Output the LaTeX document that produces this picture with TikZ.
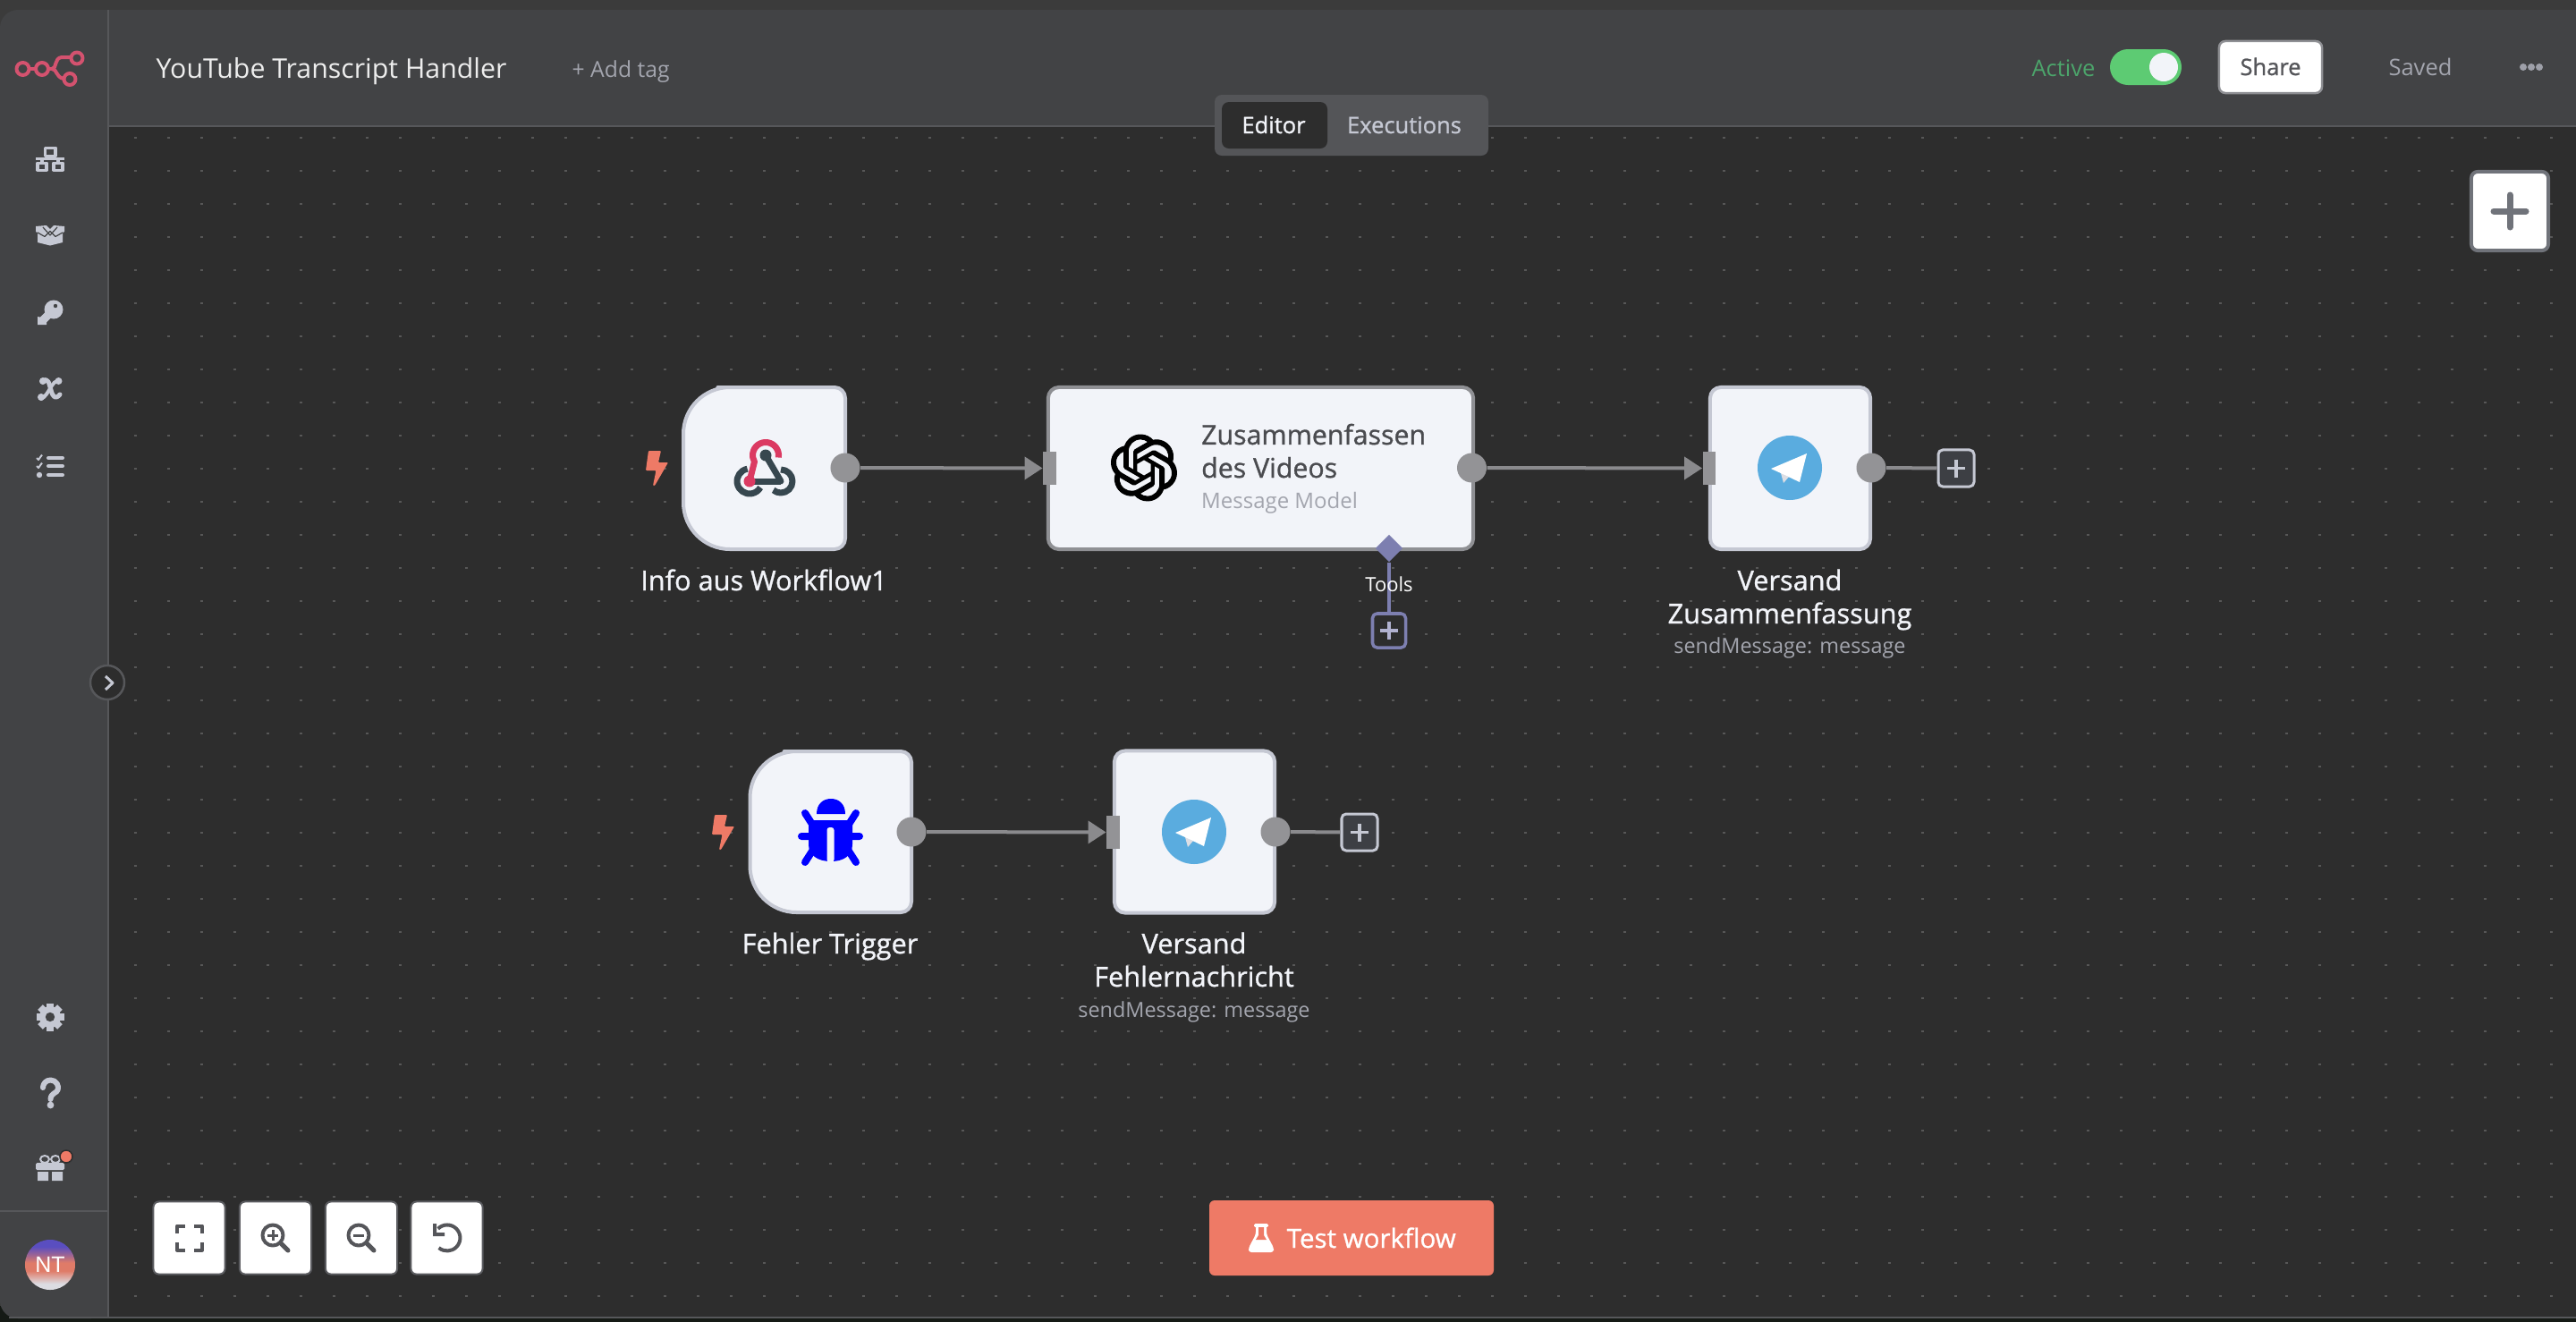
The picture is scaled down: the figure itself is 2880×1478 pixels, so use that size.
\documentclass[tikz,border=0pt]{standalone}
\usepackage{fontspec}
\setmainfont{Open Sans}
\newfontfamily\medf[FakeBold=1.0]{Open Sans}
\newfontfamily\arialf{Liberation Sans}
\usetikzlibrary{arrows.meta,shapes.geometric,svg.path}
\definecolor{canvasc}{HTML}{2D2D2D}
\definecolor{barc}{HTML}{424345}
\definecolor{topc}{HTML}{3B3B3B}
\definecolor{linec}{HTML}{56575A}
\definecolor{dotc}{HTML}{575757}
\definecolor{iconc}{HTML}{C5C8D3}
\definecolor{nodefill}{HTML}{F2F4F9}
\definecolor{nodeedge}{HTML}{C5C8D3}
\definecolor{selectedge}{HTML}{8F9094}
\definecolor{portc}{HTML}{939396}
\definecolor{connc}{HTML}{8A8A8D}
\definecolor{toolc}{HTML}{7D7FB0}
\definecolor{coral}{HTML}{EE7A66}
\definecolor{tgblue}{HTML}{5AACDF}
\definecolor{hookdark}{HTML}{37474F}
\definecolor{hookpink}{HTML}{DB3A62}
\definecolor{logoc}{HTML}{D4526F}
\definecolor{bugc}{HTML}{0000FF}
\definecolor{subc}{HTML}{A3A5AE}
\definecolor{btnline}{HTML}{5B5C60}
\definecolor{btnicon}{HTML}{55565A}
\definecolor{plusfill}{HTML}{3D3F44}
\definecolor{avlight}{HTML}{DCDCE2}
\definecolor{avmid}{HTML}{DF7B68}
\definecolor{avtop}{HTML}{5A4EC0}
\definecolor{activec}{HTML}{4CA56B}
\definecolor{toggleg}{HTML}{5DCB73}
\definecolor{tabouter}{HTML}{545558}
\definecolor{plusedge}{HTML}{70737A}
\definecolor{textdark}{HTML}{4A4B4F}
\definecolor{screenedge}{HTML}{151A15}
\pgfdeclareverticalshading{avatarshade}{100bp}{color(0bp)=(avlight); color(31bp)=(avlight); color(44bp)=(avmid); color(52bp)=(avmid); color(68bp)=(avtop); color(100bp)=(avtop)}
\newcommand{\fpx}[1]{\fontsize{\fpeval{#1*0.28453}pt}{10.53pt}\selectfont}
\newcommand{\boltmark}[2]{\fill[coral,rounded corners=.01cm,shift={(#1,#2)}] (3,0)--(17,0)--(14,13)--(25,13)--(10,39)--(8,39)--(11.5,22)--(0,22)--cycle;}
\newcommand{\tgicon}[2]{\begin{scope}[shift={(#1,#2)}]
\fill[white] (19,-16)--(-21,1)--(-10,6)--(11,16)--cycle;
\fill[iconc!60!white] (-10,6)--(-7,17)--(-1,10)--cycle;
\fill[white] (19,-16)--(-10,6)--(-1,10)--cycle;
\end{scope}}
\newcommand{\triggerbox}[4]{\draw[trigshape] [rounded corners=.12cm] (\fpeval{(#1+#3)/2},#2)--(#3,#2)--(#3,#4)--(\fpeval{(#1+#3)/2},#4) [rounded corners=.52cm] --(#1,#4)--(#1,#2)--cycle;}
\newcommand{\plusglyph}[3]{\draw[#3,line width=.035cm] (\fpeval{#1-10},#2)--(\fpeval{#1+10},#2) (#1,\fpeval{#2-10})--(#1,\fpeval{#2+10});}
\tikzset{
  trigshape/.style={draw=nodeedge,fill=nodefill,line width=.04cm},
  anchorbox/.style={inner sep=0pt,minimum width=1.81cm,minimum height=1.81cm},
  flowbox/.style={draw=nodeedge,fill=nodefill,line width=.04cm,rounded corners=.12cm,inner sep=0pt,minimum height=1.81cm},
  outdot/.style={circle,fill=portc,inner sep=0pt,minimum size=.33cm},
  inport/.style={rectangle,fill=portc,inner sep=0pt,minimum width=.145cm,minimum height=.37cm},
  conn/.style={draw=connc,line width=.04cm,-{Triangle[length=.2cm,width=.25cm]}},
  stub/.style={draw=connc,line width=.04cm},
  plusbox/.style={rectangle,rounded corners=.05cm,draw=nodeedge,fill=plusfill,line width=.03cm,inner sep=0pt,minimum width=.4cm,minimum height=.41cm},
  toolbox/.style={rectangle,rounded corners=.05cm,draw=toolc,fill=canvasc,line width=.035cm,inner sep=0pt,minimum width=.37cm,minimum height=.38cm},
  lab/.style={inner sep=0pt,anchor=base,text=nodefill,align=center,font=\medf\fpx{30.7}},
  sublab/.style={inner sep=0pt,anchor=base,text=subc,font=\fpx{23.4}},
  ctrl/.style={rectangle,rounded corners=.06cm,draw=btnline,fill=white,line width=.02cm,inner sep=0pt,minimum width=.8cm,minimum height=.81cm},
  ctrlicon/.style={draw=btnicon,line width=.04cm},
  txt/.style={inner sep=0pt,anchor=base}
}
\begin{document}
\begin{tikzpicture}[x=.01cm,y=-.01cm,line join=round]
\useasboundingbox (0,0) rectangle (2880,1478);
% backgrounds
\fill[screenedge] (0,0) rectangle (2880,1478);
\fill[topc] (0,0) rectangle (2880,1460);
\fill[canvasc] (122,142) rectangle (2880,1472);
\fill[barc,rounded corners=.2cm] (0,11) rectangle (122,1474);
\fill[barc] (60,11) rectangle (122,1474);
\fill[barc] (122,11) rectangle (2880,140);
\fill[canvasc] (122,142) rectangle (2880,1472);
\fill[linec] (120,11) rectangle (122,1474);
\fill[linec] (122,140) rectangle (2880,142);
\fill[linec] (0,1353) rectangle (120,1355);
\fill[linec] (10,1472) rectangle (2880,1474);
% dots
\foreach \i in {0,...,73}{\foreach \j in {0,...,35}{
  \fill[dotc] (\fpeval{150+\i*37},\fpeval{152.6+\j*37}) rectangle ++(2.5,2.5);}}
% header
\node[txt,anchor=base west,text=white!93!black,font=\fpx{30.3}] (title) at (174,87) {YouTube Transcript Handler};
\node[txt,anchor=base west,text=subc,font=\fpx{24.7}] (addtag) at (639,86) {+ Add tag};
\node[txt,font=\fpx{25.5},text=activec] (active) at (2307,85) {Active};
\fill[toggleg,rounded corners=.2cm] (2359,55) rectangle (2439,95);
\fill[nodefill] (2419,75) circle (16);
\node[rectangle,rounded corners=.07cm,draw=selectedge,fill=white,line width=.025cm,minimum width=1.15cm,minimum height=.58cm,inner sep=0pt] (sharebox) at (2538.5,75) {};
\node[txt,text=btnicon,font=\medf\fpx{25.5}] (share) at (2538.5,84) {Share};
\node[txt,text=subc,font=\fpx{25.5}] (saved) at (2706,84) {Saved};
\foreach \x in {2821,2830,2839}{\fill[iconc!80!black] (\x,75) circle (4);}
% tabs
\fill[tabouter,rounded corners=.08cm] (1358,106) rectangle (1664,174);
\fill[canvasc,rounded corners=.08cm] (1366,114) rectangle (1484,166);
\node[txt,text=nodefill,font=\medf\fpx{25.5}] (editor) at (1424,149) {Editor};
\node[txt,text=iconc,font=\medf\fpx{25.5}] (exec) at (1570,149) {Executions};
% add node button
\node[rectangle,rounded corners=.07cm,draw=plusedge,fill=white,line width=.04cm,inner sep=0pt,minimum width=.86cm,minimum height=.88cm] (addbtn) at (2806,236) {};
\draw[plusedge,line width=.07cm,line cap=round] (2788,236)--(2824,236) (2806,218)--(2806,254);
% logo
\begin{scope}[logoc,line width=.04cm]
\draw (25.5,77) circle (7) (47,77) circle (7) (86,65) circle (6.5) (78,88.5) circle (6.5);
\draw (33,77)--(39,77) (54,77)--(60,77);
\draw (58,77) .. controls (64,77) and (60,65) .. (69,64) -- (79,64);
\draw (58,77) .. controls (64,77) and (62,86) .. (71,88);
\end{scope}
% sidebar icons
\begin{scope}[iconc]
\draw[line width=.03cm] (50.5,165) rectangle (62,174) (42,182) rectangle (52,190) (60,182) rectangle (70,190);
\draw[line width=.03cm] (40,177)--(72,177) (56,174)--(56,177) (47,177)--(47,182) (65,177)--(65,182);
\fill (40,253)--(52,252)--(56,256)--(60,252)--(72,253)--(72,259)--(70,260)--(70,271)--(56,274.5)--(42,271)--(42,260)--(40,259)--cycle;
\draw[barc,line width=.012cm] (48,254)--(56,263)--(64,254) (42,260)--(50,264.5)--(56,258.5)--(62,264.5)--(70,260);
\fill (60,346) circle (10.5);
\draw[line width=.09cm] (56,350)--(47,359);
\fill (42,354)--(52,356)--(52,363)--(42,363)--cycle;
\fill[barc] (62,342) circle (2.2);
\draw[line width=.05cm,line cap=round] (47,427) .. controls (54,420) and (55,430) .. (57,436) .. controls (59,444) and (62,447) .. (67,441);
\draw[line width=.04cm,line cap=round] (66,426) .. controls (58,424) and (55,442) .. (46,446);
\fill (48,426) circle (4) (65.5,426) circle (4) (46,444) circle (4);
\draw[line width=.02cm] (41,512)--(43,514)--(47,508.5) (41,521)--(43,523)--(47,517.5);
\fill (44,531) circle (3.2);
\draw[line width=.04cm,line cap=round] (54,512)--(70,512) (54,521)--(70,521) (54,531)--(70,531);
% gear
\begin{scope}[shift={(56,1137)}]
\foreach \a in {0,45,...,315}{\fill[rotate=\a] (-4,-15.5) rectangle (4,-9);}
\fill (0,0) circle (12);
\fill[barc] (0,0) circle (5.2);
\end{scope}
% question
\draw[line width=.06cm,line cap=round] (48,1216) arc[start angle=180,end angle=375,radius=8.5] .. controls (64,1222) and (56.5,1222) .. (56.5,1229);
\fill (56.5,1235.5) circle (3.9);
% gift
\fill[rounded corners=.015cm] (40,1300) rectangle (72,1308);
\fill (42,1310) rectangle (54,1320) (58,1310) rectangle (70,1320);
\draw[line width=.02cm] (50,1296) ellipse (5 and 4) (62,1296) ellipse (5 and 4);
\end{scope}
\fill[coral,draw=canvasc,line width=.015cm] (74,1293) circle (7);
% sidebar toggle
\node[circle,draw=linec,fill=canvasc,line width=.025cm,minimum size=.38cm,inner sep=0pt] (toggle) at (120,763) {};
\draw[iconc,line width=.03cm] (118,756)--(126,763.5)--(118,771);
% avatar
\node[circle,shading=avatarshade,minimum size=.56cm,inner sep=0pt] (avatar) at (56,1414) {};
\node[txt,text=white,font=\arialf\fpx{25}] (nt) at (56,1422) {NT};
% control buttons
\node[ctrl] (fit) at (211.5,1384) {};
\node[ctrl] (zin) at (308,1384) {};
\node[ctrl] (zout) at (404,1384) {};
\node[ctrl] (undo) at (499.5,1384) {};
\draw[ctrlicon] (198,1379)--(198,1370.5)--(207,1370.5) (217,1370.5)--(226,1370.5)--(226,1379) (198,1389)--(198,1397.5)--(207,1397.5) (217,1397.5)--(226,1397.5)--(226,1389);
\draw[ctrlicon] (305,1381) circle (11.5);
\draw[ctrlicon,line width=.05cm,line cap=round] (313.5,1389.5)--(322,1398);
\draw[ctrlicon,line width=.03cm] (299,1381)--(311,1381) (305,1375)--(305,1387);
\draw[ctrlicon] (401,1381) circle (11.5);
\draw[ctrlicon,line width=.05cm,line cap=round] (409.5,1389.5)--(418,1398);
\draw[ctrlicon,line width=.03cm] (395,1381)--(407,1381);
\draw[ctrlicon] (489.7,1373.7) arc[start angle=225,end angle=490,radius=14.5];
\fill[btnicon] (484,1368)--(488,1368)--(488,1378)--(497,1378)--(497,1382)--(484,1382)--cycle;
% test button
\fill[coral,rounded corners=.06cm] (1352,1342) rectangle (1670,1426);
\fill[white,rounded corners=.015cm] (1402,1368) rectangle (1418,1372);
\fill[white,rounded corners=.03cm] (1404,1370)--(1416,1370)--(1416,1380)--(1424,1395)--(1424,1400)--(1396,1400)--(1396,1395)--(1404,1380)--cycle;
\fill[coral] (1407,1372)--(1413,1372)--(1413,1381)--(1416,1386)--(1404,1386)--(1407,1381)--cycle;
\node[txt,anchor=base west,text=white,font=\medf\fpx{29.5}] (testwf) at (1438,1395) {Test workflow};
% ---- workflow row 1
\node[anchorbox] (info) at (854.5,523.5) {};
\triggerbox{764}{433}{945}{614}
\node[flowbox,minimum width=4.75cm,draw=selectedge] (openai) at (1409.5,523.5) {};
\node[flowbox,minimum width=1.79cm] (tg1) at (2001.5,523.5) {};
\boltmark{722}{504}
% webhook icon
\begin{scope}[line width=.07cm]
\draw[hookdark,line cap=round] (856,509)--(873,538);
\draw[hookdark] (840,538)--(873,538);
\draw[hookdark] (873,525) arc[start angle=-90,end angle=130,radius=13];
\draw[hookdark] (835.6,524.2) arc[start angle=-100,end angle=-330,radius=14];
\draw[hookpink] (870.3,511.5) arc[start angle=10,end angle=-210,radius=14.5] -- (838,538);
\fill[hookdark] (856,509) circle (6.5);
\fill[hookpink] (838,538) circle (6.5);
\end{scope}
% openai icon
\begin{scope}[shift={(1242,486)},scale=.876,yscale=-1]
\filldraw[black,line width=.01cm,even odd rule] svg {M 22.2819 9.8211 a 5.9847 5.9847 0 0 0 -0.5157 -4.9108 a 6.0462 6.0462 0 0 0 -6.5098 -2.9 A 6.0651 6.0651 0 0 0 4.9807 4.1818 a 5.9847 5.9847 0 0 0 -3.9977 2.9 a 6.0462 6.0462 0 0 0 0.7427 7.0966 a 5.98 5.98 0 0 0 0.511 4.9107 a 6.051 6.051 0 0 0 6.5146 2.9001 A 5.9847 5.9847 0 0 0 13.2599 24 a 6.0557 6.0557 0 0 0 5.7718 -4.2058 a 5.9894 5.9894 0 0 0 3.9977 -2.9001 a 6.0557 6.0557 0 0 0 -0.7475 -7.0729 z M 13.2599 22.4292 a 4.4755 4.4755 0 0 1 -2.8764 -1.0408 l 0.1419 -0.0804 l 4.7783 -2.7582 l 0.3927 -0.6813 v -6.7369 l 2.02 1.1686 l 0.038 0.052 v 5.5826 a 4.504 4.504 0 0 1 -4.4945 4.4944 z M 3.5992 18.3038 a 4.4708 4.4708 0 0 1 -0.5346 -3.0137 l 0.142 0.0852 l 4.783 2.7582 l 0.7806 0 l 5.8428 -3.3685 v 2.3324 l -0.0332 0.0615 L 9.74 19.9502 a 4.4992 4.4992 0 0 1 -6.1408 -1.6464 z M 2.3408 7.8956 a 4.485 4.485 0 0 1 2.3655 -1.9728 V 11.6 l 0.3879 0.6765 l 5.8144 3.3543 l -2.0201 1.1685 l -0.071 0 l -4.8303 -2.7865 A 4.504 4.504 0 0 1 2.3408 7.872 z M 18.9371 11.7514 L 13.1038 8.364 L 15.1192 7.2 l 0.071 0 l 4.8303 2.7913 a 4.4944 4.4944 0 0 1 -0.6765 8.1042 v -5.6772 l -0.407 -0.667 z M 20.9478 8.7283 l -0.142 -0.0852 l -4.7735 -2.7818 l -0.7854 0 L 9.409 9.2297 V 6.8974 l 0.0284 -0.0615 l 4.8303 -2.7866 a 4.4992 4.4992 0 0 1 6.6802 4.66 z M 8.3065 12.863 l -2.02 -1.1638 l -0.038 -0.0567 V 6.0742 a 4.4992 4.4992 0 0 1 7.3757 -3.4537 l -0.142 0.0805 L 8.704 5.459 l -0.3927 0.6813 z M 9.4041 10.4976 l 2.602 -1.4998 l 2.6069 1.4998 v 2.9994 l -2.5974 1.4997 l -2.6067 -1.4997 z};
\end{scope}
\node[txt,anchor=base west,text=textdark,font=\medf\fpx{30.3},align=left] (oatext) at (1342.5,534) {Zusammenfassen\\des Videos};
\node[txt,anchor=base west,text=subc,font=\fpx{24}] (oasub) at (1342.5,568) {Message Model};
% telegram 1
\fill[tgblue] (2001,523) circle (36);
\tgicon{2001}{523}
% ports row 1
\node[outdot] (infoOut) at (945,523) {};
\node[inport] (oaIn) at (1173.5,523.5) {};
\node[outdot] (oaOut) at (1645.5,523) {};
\node[inport] (tg1In) at (1911,523.5) {};
\node[outdot] (tg1Out) at (2092,523) {};
\node[plusbox] (tg1Plus) at (2187,523.5) {};
\plusglyph{2187}{523.5}{iconc}
\draw[conn] (infoOut) -- (oaIn);
\draw[conn] (oaOut) -- (tg1In);
\draw[stub] (tg1Out) -- (tg1Plus);
% tools
\node[diamond,fill=toolc,aspect=1,inner sep=0pt,minimum width=.31cm,minimum height=.31cm] (toolsPort) at (1553,613) {};
\node[toolbox] (toolsPlus) at (1553,705) {};
\plusglyph{1553}{705}{toolc!60!white}
\draw[toolc,line width=.035cm] (toolsPort) -- (toolsPlus);
\node[txt,text=white,font=\fpx{22}] (tools) at (1553,661) {Tools};
% labels row 1
\node[lab] (infoLab) at (854,660) {Info aus Workflow1};
\node[lab] (tg1Lab) at (2001,697) {Versand\\Zusammenfassung};
\node[sublab] (tg1Sub) at (2001,730) {sendMessage: message};
% ---- workflow row 2
\node[anchorbox] (bug) at (928.5,930) {};
\triggerbox{838.5}{840}{1019}{1020}
\node[flowbox,minimum width=1.79cm] (tg2) at (1335.5,930) {};
\boltmark{796}{911}
% bug icon
\begin{scope}[bugc]
\fill (913,910) .. controls (913,899) and (920,893) .. (929,893) .. controls (938,893) and (945,899) .. (945,910) -- cycle;
\fill (904,917) -- (953,917) -- (953,944) .. controls (953,956) and (944,963) .. (929,963) .. controls (914,963) and (904,956) .. (904,944) -- cycle;
\draw[line width=.08cm,line cap=round] (900,909)--(909,923) (957,909)--(948,923) (896,935)--(961,935) (900,964)--(909,950) (957,964)--(948,950);
\fill[nodefill,rounded corners=.03cm] (924.5,925) rectangle (932.5,964);
\end{scope}
% telegram 2
\fill[tgblue] (1335,930) circle (36);
\tgicon{1335}{930}
\node[outdot] (bugOut) at (1019,930) {};
\node[inport] (tg2In) at (1244.5,930.5) {};
\node[outdot] (tg2Out) at (1426,930) {};
\node[plusbox] (tg2Plus) at (1520,930.5) {};
\plusglyph{1520}{930.5}{iconc}
\draw[conn] (bugOut) -- (tg2In);
\draw[stub] (tg2Out) -- (tg2Plus);
\node[lab] (bugLab) at (928,1066) {Fehler Trigger};
\node[lab] (tg2Lab) at (1335,1103) {Versand\\Fehlernachricht};
\node[sublab] (tg2Sub) at (1335,1137) {sendMessage: message};
\end{tikzpicture}
\end{document}
